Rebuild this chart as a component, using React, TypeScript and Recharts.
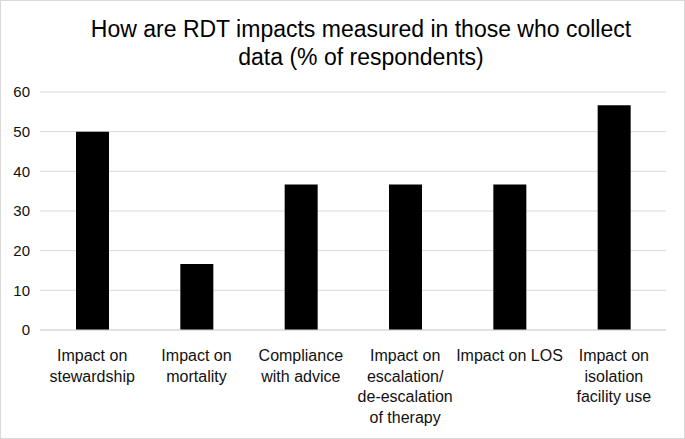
import React from "react";
import { BarChart, Bar, XAxis, YAxis, CartesianGrid } from "recharts";

const categories = [
  "Impact on\nstewardship",
  "Impact on\nmortality",
  "Compliance\nwith advice",
  "Impact on\nescalation/\nde-escalation\nof therapy",
  "Impact on LOS",
  "Impact on\nisolation\nfacility use",
];
const percentValues = [50, 16.67, 36.67, 36.67, 36.67, 56.67];
const yTicks = [0, 10, 20, 30, 40, 50, 60];

const data = categories.map((name, i) => ({ name, value: percentValues[i] }));

const FONT = '"Liberation Sans", Arial, Helvetica, sans-serif';

function CategoryTick(props: any) {
  const { x, y, payload } = props;
  const lines = String(payload.value).split("\n");
  return (
    <text x={x} y={y} textAnchor="middle" fill="#111" fontSize={16} fontFamily={FONT}>
      {lines.map((line, i) => (
        <tspan key={i} x={x} dy={i === 0 ? 29 : 20.5}>
          {line}
        </tspan>
      ))}
    </text>
  );
}

export default function App() {
  return (
    <div
      style={{
        position: "absolute",
        left: 0,
        top: 0,
        width: 685,
        height: 439,
        boxSizing: "border-box",
        border: "1px solid #d9d9d9",
        background: "#fff",
        fontFamily: FONT,
      }}
    >
      <div
        style={{
          position: "absolute",
          left: 35,
          top: 14,
          width: 650,
          textAlign: "center",
          fontSize: 23,
          lineHeight: "28px",
          color: "#000",
        }}
      >
        How are RDT impacts measured in those who collect
        <br />
        data (% of respondents)
      </div>
      <BarChart
        width={683}
        height={437}
        data={data}
        margin={{ top: 91, right: 18, left: 7, bottom: 0 }}
        barSize={33}
      >
        <CartesianGrid vertical={false} stroke="#d9d9d9" strokeWidth={1} />
        <XAxis
          dataKey="name"
          interval={0}
          height={108}
          tickLine={false}
          tickSize={0}
          axisLine={{ stroke: "#d9d9d9" }}
          tick={<CategoryTick />}
        />
        <YAxis
          width={32}
          domain={[0, 60]}
          ticks={yTicks}
          tickLine={false}
          tickSize={0}
          tickMargin={10}
          axisLine={false}
          tick={{ fill: "#111", fontSize: 15, fontFamily: FONT }}
        />
        <Bar dataKey="value" fill="#000" isAnimationActive={false} />
      </BarChart>
    </div>
  );
}
